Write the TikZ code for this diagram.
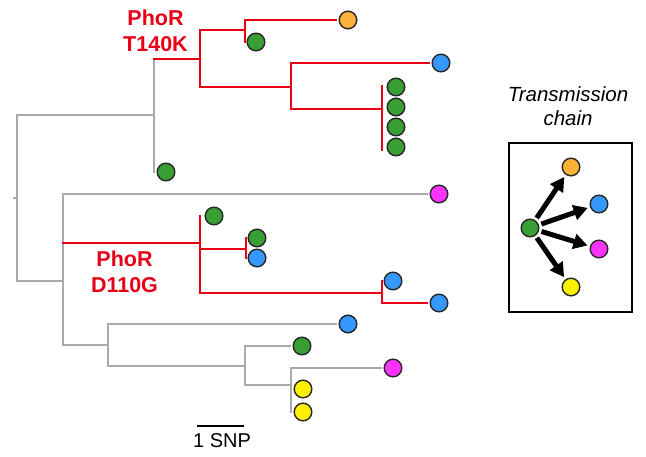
\documentclass[tikz,border=0pt]{standalone}
\usepackage{fontspec}
\setmainfont{Liberation Sans}
\usetikzlibrary{arrows.meta,calc}
\definecolor{cRed}{RGB}{232,0,22}
\definecolor{cGray}{RGB}{170,170,170}
\definecolor{cOrange}{RGB}{248,178,56}
\definecolor{cGreen}{RGB}{57,158,52}
\definecolor{cBlue}{RGB}{52,152,255}
\definecolor{cPink}{RGB}{255,51,255}
\definecolor{cYellow}{RGB}{255,240,0}
\pgfdeclarelayer{bg}
\pgfsetlayers{bg,main}
\begin{document}
\begin{tikzpicture}[x=1pt,y=-1pt,
  leaf/.style={circle,draw=black!85,line width=1.4pt,minimum size=17.6pt,inner sep=0pt},
  gbr/.style={draw=cGray,line width=2.4pt,line cap=rect},
  rbr/.style={draw=cRed,line width=2.4pt,line cap=rect},
  tip/.style={shorten >=3pt},
  mut/.style={text=cRed,font=\fontsize{21.5}{25.5}\selectfont\bfseries,align=center,inner sep=0pt,anchor=north},
  arr/.style={line width=5pt,-{Triangle[length=14pt,width=15pt]},shorten <=2.5pt,shorten >=2.5pt}]
\useasboundingbox (0,0) rectangle (646,457);

% leaves
\node[leaf,fill=cOrange] (o1) at (348,20) {};
\node[leaf,fill=cGreen] (g2) at (256,42) {};
\node[leaf,fill=cBlue] (b1) at (441,63) {};
\node[leaf,fill=cGreen] (s1) at (396,87) {};
\node[leaf,fill=cGreen] (s2) at (396,107) {};
\node[leaf,fill=cGreen] (s3) at (396,127) {};
\node[leaf,fill=cGreen] (s4) at (396,147) {};
\node[leaf,fill=cGreen] (g1) at (166,172) {};
\node[leaf,fill=cPink] (p1) at (439,194) {};
\node[leaf,fill=cGreen] (g3) at (214,216) {};
\node[leaf,fill=cGreen] (g4) at (257,238) {};
\node[leaf,fill=cBlue] (b2) at (257,258) {};
\node[leaf,fill=cBlue] (b3) at (393,281) {};
\node[leaf,fill=cBlue] (b4) at (439,303) {};
\node[leaf,fill=cBlue] (b5) at (348,324) {};
\node[leaf,fill=cGreen] (g5) at (302,346) {};
\node[leaf,fill=cPink] (p2) at (393,368) {};
\node[leaf,fill=cYellow] (y1) at (303,389) {};
\node[leaf,fill=cYellow] (y2) at (303,412) {};

% internal nodes
\coordinate (rootstub) at (14,198);
\coordinate (root) at (17,198);
\coordinate (C1) at (154,115);
\coordinate (R1) at (200,59);
\coordinate (R2) at (245,30);
\coordinate (R3) at (291,87);
\coordinate (R4) at (382,109);
\coordinate (C2) at (63,281);
\coordinate (R5) at (200,243);
\coordinate (R6) at (246,249);
\coordinate (R7) at (382,293);
\coordinate (C3) at (108,345);
\coordinate (C4) at (245,366);
\coordinate (C5) at (291,385);

\begin{pgfonlayer}{bg}
\fill[white] (0,0) rectangle (646,457);
% gray verticals
\draw[gbr] (rootstub) -- (root);
\draw[gbr] (root |- C1) -- (root |- C2);
\draw[gbr] (C1 |- R1) -- (C1 |- g1);
\draw[gbr] (C2 |- p1) -- (C2 |- C3);
\draw[gbr] (C3 |- b5) -- (C3 |- C4);
\draw[gbr] (C4 |- g5) -- (C4 |- C5);
\draw[gbr] (C5 |- p2) -- (C5 |- y2);
% gray horizontals
\draw[gbr] (root |- C1) -- (C1);
\draw[gbr] (root |- C2) -- (C2);
\draw[gbr,tip] (C2 |- p1) -- (p1);
\draw[gbr] (C2 |- C3) -- (C3);
\draw[gbr,tip] (C3 |- b5) -- (b5);
\draw[gbr] (C3 |- C4) -- (C4);
\draw[gbr,tip] (C4 |- g5) -- (g5);
\draw[gbr] (C4 |- C5) -- (C5);
\draw[gbr,tip] (C5 |- p2) -- (p2);
% red verticals
\draw[rbr] (R1 |- R2) -- (R1 |- R3);
\draw[rbr] (R2 |- o1) -- (R2 |- g2);
\draw[rbr] (R3 |- b1) -- (R3 |- R4);
\draw[rbr] ($(R4 |- s1)+(0,-1)$) -- ($(R4 |- s4)+(0,3)$);
\draw[rbr] (R5 |- g3) -- (R5 |- R7);
\draw[rbr] (R6 |- g4) -- (R6 |- b2);
\draw[rbr] (R7 |- b3) -- (R7 |- b4);
% red horizontals
\draw[rbr] (C1 |- R1) -- (R1);
\draw[rbr] (R1 |- R2) -- (R2);
\draw[rbr] (R1 |- R3) -- (R3);
\draw[rbr,tip] (R2 |- o1) -- (o1);
\draw[rbr,tip] (R3 |- b1) -- (b1);
\draw[rbr] (R3 |- R4) -- (R4);
\draw[rbr] (C2 |- R5) -- (R5);
\draw[rbr] (R5 |- R6) -- (R6);
\draw[rbr] (R5 |- R7) -- (R7);
\draw[rbr,tip] (R7 |- b4) -- (b4);
\end{pgfonlayer}

% mutation labels
\node[mut] (labT) at (155.5,10) {PhoR\\T140K};
\node[mut] (labD) at (124.5,251) {PhoR\\D110G};

% scale bar
\coordinate (sb1) at (197,426);
\coordinate (sb2) at (244,426);
\draw[line width=1.5pt] (sb1) -- (sb2);
\node[font=\fontsize{20}{24}\selectfont,anchor=base] (snp) at (222,447) {1 SNP};

% transmission chain
\node[font=\fontsize{20.5}{24}\selectfont\itshape,align=center,inner sep=0pt,anchor=north] (tlab) at (568,86) {Transmission\\chain};
\node[draw,line width=1.5pt,minimum width=123pt,minimum height=169pt,inner sep=0pt] (box) at (570.5,227.5) {};
\node[leaf,fill=cGreen] (tg) at (530,228) {};
\node[leaf,fill=cOrange] (to) at (571,167) {};
\node[leaf,fill=cBlue] (tb) at (599,204) {};
\node[leaf,fill=cPink] (tp) at (599,249) {};
\node[leaf,fill=cYellow] (ty) at (571,287) {};
\draw[arr] (tg) -- (to);
\draw[arr] (tg) -- (tb);
\draw[arr] (tg) -- (tp);
\draw[arr] (tg) -- (ty);
\end{tikzpicture}
\end{document}
